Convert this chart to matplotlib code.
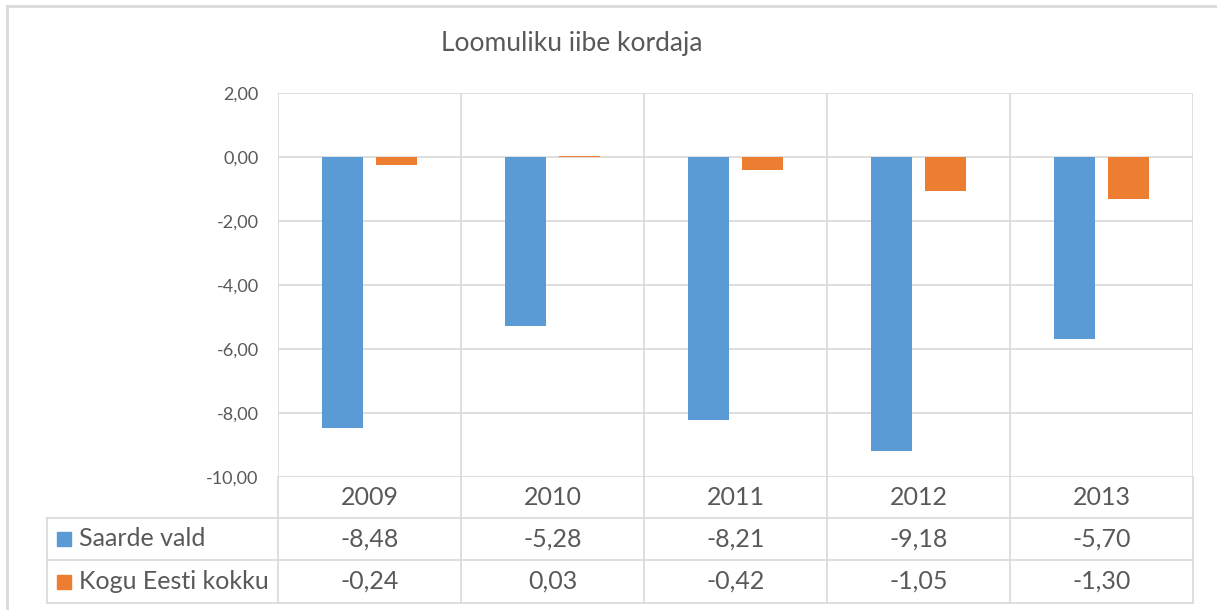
import matplotlib
matplotlib.use("Agg")
import matplotlib.pyplot as plt
import numpy as np

# ---- data ----
years = ["2009", "2010", "2011", "2012", "2013"]
series_names = ["Saarde vald", "Kogu Eesti kokku"]
saarde = [-8.48, -5.28, -8.21, -9.18, -5.70]
eesti = [-0.24, 0.03, -0.42, -1.05, -1.30]
yticks = [2, 0, -2, -4, -6, -8, -10]
title = "Loomuliku iibe kordaja"

colors = ["#5B9BD5", "#ED7D31"]
grid_c = "#D9D9D9"
text_c = "#595959"

plt.rcParams['font.family'] = ['Lato', 'DejaVu Sans']

W, H = 1217, 610
fig = plt.figure(figsize=(W / 100, H / 100), dpi=100)
fig.patch.set_facecolor("white")

# plot area in pixel coordinates
px_l, px_r, px_t, px_b = 278, 1193, 93, 477
ax = fig.add_axes([px_l / W, 1 - px_b / H, (px_r - px_l) / W, (px_b - px_t) / H])
x = np.arange(len(years))
bw = 0.224
off = 0.145
ax.bar(x - off, saarde, bw, color=colors[0], linewidth=0, zorder=3)
ax.bar(x + off, eesti, bw, color=colors[1], linewidth=0, zorder=3)
ax.set_xlim(-0.5, len(years) - 0.5)
ax.set_ylim(-10, 2)
ax.set_yticks(yticks)
ax.set_yticklabels([f"{v:.2f}".replace(".", ",") for v in yticks], color=text_c, fontsize=13)
ax.tick_params(axis="y", length=0, pad=14)
ax.set_xticks([])
for s in ax.spines.values():
    s.set_visible(False)
for v in yticks:
    ax.axhline(v, color=grid_c, lw=1.2, zorder=1)
for b in np.arange(-0.5, len(years), 1.0):
    ax.axvline(b, color=grid_c, lw=1.2, zorder=1)

# overlay axes in pixel coordinates for table, borders, title
ov = fig.add_axes([0, 0, 1, 1], zorder=-1)
ov.set_xlim(0, W)
ov.set_ylim(H, 0)
ov.axis("off")

# outer chart border
ov.plot([7, W], [6, 6], color=grid_c, lw=2)
ov.plot([7, 7], [6, H], color=grid_c, lw=2)

# title
fig.text(572 / W, 1 - 44 / H, title, ha="center", va="center", fontsize=19, color=text_c)

# data table
colw = (px_r - px_l) / len(years)
row_hdr = (477, 518)
row1 = (518, 560)
row2 = (560, 603)
tab_left = 47
for i in range(len(years) + 1):
    xx = px_l + i * colw
    ov.plot([xx, xx], [px_b, row2[1]], color=grid_c, lw=1.2)
ov.plot([tab_left, tab_left], [row1[0], row2[1]], color=grid_c, lw=1.2)
for yy in [row1[0], row2[0], row2[1]]:
    ov.plot([tab_left, px_r], [yy, yy], color=grid_c, lw=1.2)

for i, yr in enumerate(years):
    cx = px_l + (i + 0.5) * colw
    ov.text(cx, sum(row_hdr) / 2, yr, ha="center", va="center", fontsize=18, color=text_c)
    for vals, row in ((saarde, row1), (eesti, row2)):
        ov.text(cx, sum(row) / 2, f"{vals[i]:.2f}".replace(".", ","),
                ha="center", va="center", fontsize=18, color=text_c)

for name, col, row in zip(series_names, colors, (row1, row2)):
    cy = sum(row) / 2
    ov.add_patch(plt.Rectangle((57, cy - 7), 14, 14, color=col))
    ov.text(79, cy, name, ha="left", va="center", fontsize=18, color=text_c)

fig.savefig("out.png", dpi=100, facecolor="white")
